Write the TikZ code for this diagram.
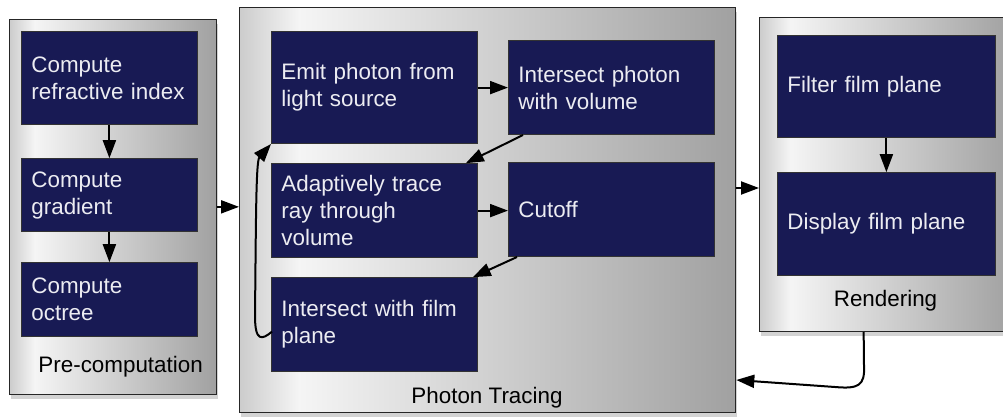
\documentclass[tikz,border=0pt]{standalone}
\usepackage{fontspec}
\setmainfont{Liberation Sans}
\usetikzlibrary{arrows.meta,shadows,calc}
\definecolor{navy}{RGB}{24,26,84}
\definecolor{boxtext}{RGB}{236,236,242}
\pgfdeclarehorizontalshading{contshade}{100bp}{color(0bp)=(gray!40); color(25bp)=(gray!40); color(31bp)=(white!96!black); color(75bp)=(gray!74); color(100bp)=(gray!74)}
\tikzset{arrowtip/.tip={Triangle[length=18pt,width=13pt]}}
\begin{document}
\begin{tikzpicture}[x=1pt,y=1pt,
  cont/.style={draw=black!85, line width=1.3pt, shade, shading=contshade,
    drop shadow={shadow xshift=1.5pt, shadow yshift=-5pt, opacity=0.35},
    anchor=south west, inner sep=0pt},
  blk/.style={draw=black!80, line width=0.8pt, fill=navy, text=boxtext,
    anchor=south west, align=left, inner xsep=10pt, inner ysep=0pt,
    font=\fontsize{22.4}{27}\selectfont},
  blkA/.style={blk, minimum width=176pt, text width=156pt},
  blkB/.style={blk, minimum width=206pt, text width=186pt},
  blkC/.style={blk, minimum width=218pt, text width=198pt},
  lbl/.style={font=\fontsize{22.4}{27}\selectfont, text=black, inner sep=0pt},
  arr/.style={-arrowtip, line width=2pt, draw=black}
]
\useasboundingbox (0,0) rectangle (1003,416);

% containers
\node[cont, minimum width=207pt, minimum height=375pt] (pre) at (9,21) {};
\node[cont, minimum width=496pt, minimum height=405pt] (photon) at (239,3) {};
\node[cont, minimum width=253pt, minimum height=314pt] (render) at (759,84) {};

% container labels
\node[lbl, anchor=base east] (prelbl) at (203,44) {Pre-computation};
\node[lbl, anchor=base] (photonlbl) at (487,13) {Photon Tracing};
\node[lbl, anchor=base] (renderlbl) at (885.5,110) {Rendering};

% pre-computation blocks
\node[blkA, minimum height=93pt] (cri) at (21,291) {Compute\\refractive index};
\node[blkA, minimum height=73pt] (cg) at (21,184) {Compute\\gradient};
\node[blkA, minimum height=74pt] (co) at (21,79) {Compute\\octree};

% photon tracing blocks
\node[blkB, minimum height=112pt] (emit) at (271,272) {Emit photon from\\light source};
\node[blkB, minimum height=94pt] (iph) at (508,281) {Intersect photon\\with volume};
\node[blkB, minimum height=94pt] (adapt) at (271,158) {Adaptively trace\\ray through\\volume};
\node[blkB, minimum height=94pt] (cutoff) at (508,159) {Cutoff};
\node[blkB, minimum height=94pt] (film) at (271,44) {Intersect with film\\plane};

% rendering blocks
\node[blkC, minimum height=102pt] (filter) at (777,278) {Filter film plane};
\node[blkC, minimum height=103pt] (display) at (777,140) {Display film plane};

% arrows inside pre-computation
\draw[arr] (cri.south) -- (cg.north);
\draw[arr] (cg.south) -- (co.north);

% arrows between containers
\draw[arr] (pre.east) -- (photon.west |- pre.east);
\coordinate (pr) at (747,228);
\draw[arr] (pr -| photon.east) -- (pr -| render.west);

% arrows inside photon tracing
\draw[arr] (emit.east) -- (iph.west |- emit.east);
\draw[arr] ($(iph.south west)+(15,0)$) -- ($(adapt.north east)+(-12,0)$);
\draw[arr] (adapt.east) -- (cutoff.west |- adapt.east);
\draw[arr] ($(cutoff.south west)+(9,0)$) -- ($(film.north east)+(-5,0)$);
\draw[arr] ($(film.west)+(1,-7)$) .. controls (262,76) and (255,74) .. (255,100)
  .. controls (256,200) and (256,255) .. (emit.south west);

% arrows inside rendering
\draw[arr] (filter.south) -- (display.north);

% return arrow
\coordinate (rs) at ($(render.south)+(-22.5,0)$);
\coordinate (ret) at (photon.east |- 0,36);
\draw[arr] (rs) -- (864,50) .. controls (865,30) and (858,27) .. (835,29) -- (ret);
\end{tikzpicture}
\end{document}
